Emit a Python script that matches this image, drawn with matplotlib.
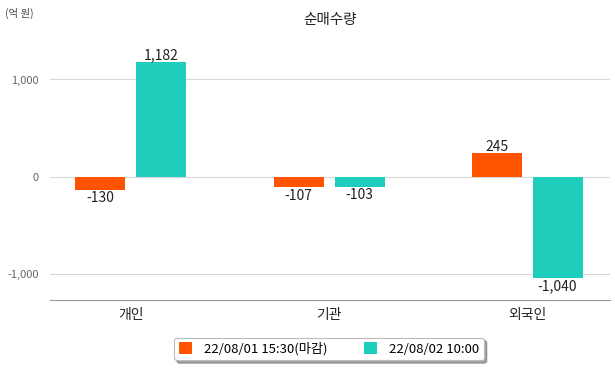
import numpy as np
import matplotlib.pyplot as plt

plt.rcParams['font.family'] = ['Noto Sans CJK KR', 'DejaVu Sans']

categories = ['개인', '기관', '외국인']
series_names = ['22/08/01 15:30(마감)', '22/08/02 10:00']
close_vals = [-130, -107, 245]
now_vals = [1182, -103, -1040]
colors = ['#FF5300', '#1ECDBB']

fig = plt.figure(figsize=(6.15, 3.68), dpi=100)
ax = fig.add_axes([50 / 615, 68 / 368, 560 / 615, 260 / 368])

x = np.arange(len(categories))
w = 0.2525
off = 0.154
b1 = ax.bar(x - off, close_vals, w, color=colors[0], label=series_names[0], zorder=3)
b2 = ax.bar(x + off, now_vals, w, color=colors[1], label=series_names[1], zorder=3)

for bars, vals in ((b1, close_vals), (b2, now_vals)):
    for rect, v in zip(bars, vals):
        cx = rect.get_x() + rect.get_width() / 2
        if v >= 0:
            ax.annotate(f'{v:,}', (cx, v), xytext=(0, -0.5), textcoords='offset points',
                        ha='center', va='bottom', fontsize=10, color='#222222')
        else:
            ax.annotate(f'{v:,}', (cx, v), xytext=(0, -1), textcoords='offset points',
                        ha='center', va='top', fontsize=10, color='#222222')

ax.set_xlim(-0.409, 2.419)
ax.set_ylim(-1262, 1405)
ax.set_yticks([-1000, 0, 1000])
ax.set_yticklabels([f'{t:,}' for t in [-1000, 0, 1000]])
ax.set_xticks(x)
ax.set_xticklabels(categories)
ax.grid(axis='y', color='#d9d9d9', linewidth=0.8, zorder=0)
for s in ['top', 'right', 'left']:
    ax.spines[s].set_visible(False)
ax.spines['bottom'].set_color('#999999')
ax.tick_params(axis='y', length=0, labelsize=8, labelcolor='#666666', pad=8)
ax.tick_params(axis='x', length=0, labelsize=10, labelcolor='#222222', pad=6)

fig.text(330 / 615, 1 - 20 / 368, '순매수량', ha='center', va='center', fontsize=10.5, color='#222222')
fig.text(5 / 615, 1 - 13 / 368, '(억 원)', ha='left', va='center', fontsize=7.5, color='#444444')

leg = ax.legend(loc='center', bbox_to_anchor=(329 / 615, 1 - 349 / 368), bbox_transform=fig.transFigure,
                ncol=2, fontsize=9.5, frameon=True, fancybox=True, shadow=True,
                handlelength=1.0, handleheight=1.0, columnspacing=2.8, handletextpad=0.9,
                borderpad=0.35)
leg.get_frame().set_edgecolor('#bbbbbb')
leg.get_frame().set_linewidth(0.8)

fig.savefig('out.png', dpi=100)
